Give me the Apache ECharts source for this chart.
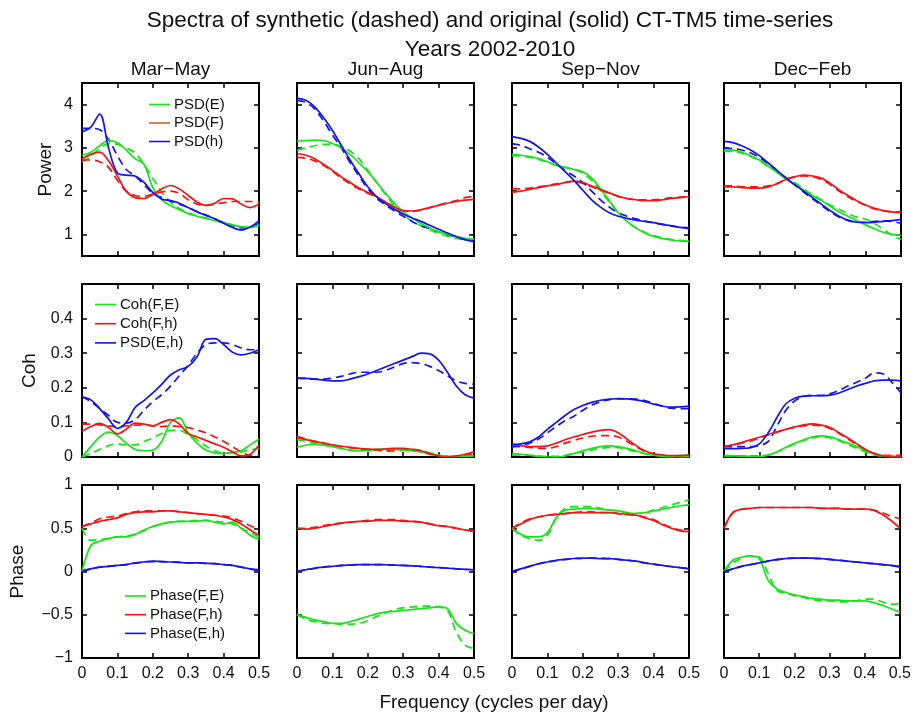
<!DOCTYPE html>
<html><head><meta charset="utf-8">
<script src="https://cdn.jsdelivr.net/npm/echarts@6/dist/echarts.min.js"></script>
<style>html,body{margin:0;padding:0;background:#fff}#chart{width:914px;height:713px}</style>
</head><body><div id="chart"></div>
<script>
// ---------- data ----------
const freq = [0,0.025,0.05,0.075,0.1,0.125,0.15,0.175,0.2,0.225,0.25,0.275,0.3,0.325,0.35,0.375,0.4,0.425,0.45,0.475,0.5];
const seasons = ['Mar\u2212May','Jun\u2212Aug','Sep\u2212Nov','Dec\u2212Feb'];
const freqTicks = [0,0.1,0.2,0.3,0.4,0.5];
const powerTicks = [1,2,3,4];
const cohTicks = [0,0.1,0.2,0.3,0.4];
const phaseTicks = [-1,-0.5,0,0.5,1];

// Row 1 : power spectra, one sub-array per season (MAM, JJA, SON, DJF)
const psdE_orig = [
 [2.83,2.9,3.05,3.17,3.12,2.95,2.75,2.62,2.08,1.8,1.67,1.57,1.48,1.42,1.37,1.32,1.27,1.22,1.17,1.16,1.22],
 [3.15,3.17,3.18,3.17,3.1,3.0,2.85,2.65,2.45,2.2,1.95,1.72,1.52,1.38,1.25,1.15,1.06,1.0,0.95,0.91,0.89],
 [2.85,2.83,2.8,2.75,2.68,2.6,2.55,2.5,2.45,2.3,2.05,1.78,1.5,1.3,1.15,1.03,0.95,0.9,0.87,0.85,0.84],
 [2.95,2.95,2.9,2.82,2.72,2.58,2.43,2.28,2.15,2.02,1.9,1.78,1.65,1.52,1.42,1.32,1.22,1.13,1.05,1.0,0.98]];
const psdE_synth = [
 [2.68,2.8,2.98,3.1,3.08,3.0,2.88,2.62,2.3,1.98,1.75,1.6,1.5,1.43,1.38,1.32,1.27,1.22,1.18,1.17,1.2],
 [2.94,3.0,3.05,3.08,3.08,3.03,2.93,2.75,2.48,2.2,1.92,1.66,1.46,1.3,1.2,1.1,1.02,0.96,0.91,0.88,0.88],
 [2.82,2.81,2.78,2.73,2.67,2.6,2.55,2.5,2.42,2.25,2.0,1.75,1.5,1.3,1.15,1.05,0.97,0.92,0.88,0.86,0.85],
 [2.92,2.92,2.88,2.8,2.7,2.57,2.45,2.32,2.2,2.05,1.92,1.8,1.68,1.58,1.48,1.4,1.35,1.25,1.12,0.98,0.88]];
const psdF_orig = [
 [2.75,2.85,2.9,2.7,2.35,2.0,1.85,1.83,1.92,2.05,2.13,2.05,1.9,1.75,1.67,1.72,1.83,1.82,1.7,1.62,1.7],
 [2.87,2.83,2.75,2.62,2.48,2.33,2.2,2.07,1.97,1.87,1.75,1.63,1.55,1.54,1.57,1.62,1.67,1.72,1.76,1.79,1.81],
 [1.97,2.0,2.04,2.08,2.12,2.15,2.2,2.23,2.2,2.12,2.04,1.96,1.88,1.83,1.8,1.78,1.78,1.8,1.83,1.85,1.87],
 [2.1,2.1,2.08,2.07,2.07,2.1,2.17,2.27,2.33,2.37,2.35,2.3,2.18,2.03,1.9,1.78,1.68,1.6,1.55,1.52,1.5]];
const psdF_synth = [
 [2.72,2.72,2.68,2.55,2.25,2.0,1.9,1.88,1.93,1.98,2.0,1.95,1.8,1.7,1.67,1.7,1.73,1.76,1.76,1.76,1.75],
 [2.78,2.76,2.7,2.6,2.46,2.3,2.17,2.05,1.95,1.86,1.75,1.63,1.55,1.53,1.56,1.62,1.68,1.73,1.78,1.85,1.88],
 [2.06,2.05,2.07,2.1,2.13,2.17,2.2,2.22,2.18,2.1,2.02,1.95,1.88,1.83,1.8,1.8,1.8,1.82,1.85,1.86,1.88],
 [2.13,2.12,2.1,2.1,2.1,2.12,2.18,2.27,2.33,2.35,2.33,2.27,2.15,2.0,1.87,1.76,1.67,1.59,1.54,1.52,1.52]];
const psdH_orig = [
 [3.37,3.48,3.78,3.0,2.42,2.37,2.35,2.2,1.97,1.82,1.78,1.72,1.62,1.52,1.44,1.36,1.26,1.16,1.1,1.17,1.32],
 [4.15,4.1,3.95,3.7,3.4,3.06,2.72,2.4,2.1,1.87,1.71,1.58,1.47,1.38,1.3,1.21,1.12,1.03,0.95,0.88,0.83],
 [3.26,3.22,3.15,3.02,2.85,2.65,2.45,2.25,2.02,1.8,1.63,1.5,1.42,1.37,1.33,1.3,1.27,1.23,1.2,1.16,1.13],
 [3.15,3.12,3.05,2.95,2.82,2.65,2.48,2.3,2.15,2.0,1.85,1.7,1.55,1.42,1.33,1.28,1.27,1.28,1.3,1.32,1.34]];
const psdH_synth = [
 [3.45,3.45,3.42,3.2,2.82,2.5,2.35,2.15,1.95,1.85,1.77,1.7,1.62,1.53,1.45,1.36,1.27,1.2,1.15,1.17,1.25],
 [4.1,4.05,3.9,3.62,3.3,3.0,2.66,2.35,2.06,1.83,1.68,1.54,1.42,1.3,1.2,1.13,1.06,0.99,0.93,0.88,0.85],
 [3.1,3.06,2.98,2.9,2.78,2.63,2.48,2.35,2.2,2.0,1.8,1.63,1.5,1.42,1.36,1.31,1.27,1.23,1.19,1.17,1.15],
 [3.0,2.98,2.95,2.88,2.78,2.63,2.47,2.3,2.14,1.98,1.82,1.67,1.52,1.4,1.32,1.28,1.28,1.3,1.31,1.3,1.25]];

// Row 2 : coherence
const cohFE_orig = [
 [0.0,0.03,0.058,0.072,0.062,0.04,0.022,0.018,0.02,0.045,0.1,0.113,0.07,0.04,0.02,0.012,0.01,0.013,0.018,0.035,0.052],
 [0.029,0.034,0.037,0.034,0.03,0.025,0.02,0.018,0.02,0.022,0.023,0.022,0.02,0.018,0.015,0.01,0.005,0.003,0.002,0.002,0.003],
 [0.01,0.008,0.005,0.002,0.0,0.0,0.003,0.01,0.018,0.025,0.03,0.032,0.03,0.025,0.018,0.01,0.005,0.002,0.001,0.001,0.001],
 [0.003,0.003,0.003,0.002,0.002,0.005,0.015,0.028,0.04,0.05,0.058,0.061,0.058,0.05,0.04,0.03,0.018,0.008,0.003,0.001,0.001]];
const cohFE_synth = [
 [0.0,0.01,0.022,0.033,0.038,0.035,0.035,0.045,0.055,0.068,0.077,0.077,0.065,0.05,0.032,0.018,0.012,0.012,0.015,0.02,0.025],
 [0.05,0.045,0.04,0.035,0.03,0.025,0.02,0.018,0.018,0.02,0.016,0.016,0.02,0.022,0.02,0.012,0.005,0.002,0.002,0.003,0.005],
 [0.005,0.006,0.005,0.003,0.002,0.002,0.005,0.01,0.015,0.02,0.025,0.028,0.027,0.022,0.015,0.01,0.005,0.002,0.001,0.001,0.002],
 [0.004,0.004,0.003,0.003,0.003,0.006,0.015,0.027,0.038,0.048,0.055,0.058,0.055,0.047,0.036,0.025,0.014,0.006,0.003,0.003,0.005]];
const cohFh_orig = [
 [0.074,0.088,0.097,0.085,0.067,0.08,0.098,0.095,0.09,0.1,0.108,0.095,0.068,0.058,0.048,0.038,0.028,0.015,0.003,0.008,0.035],
 [0.056,0.05,0.045,0.04,0.035,0.031,0.028,0.025,0.023,0.022,0.023,0.025,0.025,0.022,0.018,0.01,0.003,0.0,0.003,0.008,0.015],
 [0.038,0.033,0.03,0.03,0.032,0.04,0.05,0.058,0.065,0.072,0.077,0.079,0.07,0.052,0.033,0.018,0.01,0.006,0.004,0.004,0.006],
 [0.03,0.035,0.042,0.05,0.057,0.065,0.073,0.08,0.087,0.093,0.096,0.092,0.085,0.07,0.055,0.038,0.022,0.01,0.003,0.0,0.002]];
const cohFh_synth = [
 [0.095,0.095,0.093,0.09,0.088,0.09,0.092,0.093,0.09,0.088,0.09,0.088,0.085,0.078,0.07,0.058,0.045,0.03,0.015,0.005,0.005],
 [0.06,0.052,0.045,0.04,0.035,0.03,0.027,0.024,0.022,0.02,0.018,0.02,0.022,0.02,0.015,0.008,0.003,0.0,0.002,0.005,0.01],
 [0.03,0.03,0.028,0.025,0.025,0.03,0.04,0.048,0.055,0.06,0.062,0.062,0.058,0.045,0.03,0.016,0.008,0.004,0.003,0.004,0.005],
 [0.03,0.034,0.04,0.046,0.055,0.064,0.072,0.08,0.086,0.09,0.092,0.09,0.082,0.068,0.052,0.035,0.02,0.01,0.005,0.005,0.005]];
const cohEh_orig = [
 [0.173,0.165,0.14,0.11,0.083,0.1,0.143,0.163,0.185,0.21,0.237,0.252,0.262,0.29,0.34,0.342,0.325,0.303,0.295,0.3,0.31],
 [0.228,0.227,0.225,0.222,0.22,0.22,0.225,0.232,0.24,0.25,0.26,0.27,0.28,0.29,0.3,0.298,0.28,0.245,0.205,0.18,0.17],
 [0.036,0.038,0.044,0.058,0.08,0.1,0.12,0.137,0.149,0.158,0.164,0.167,0.169,0.168,0.165,0.16,0.153,0.147,0.144,0.145,0.147],
 [0.024,0.024,0.025,0.027,0.038,0.07,0.115,0.154,0.17,0.176,0.177,0.177,0.179,0.185,0.195,0.205,0.213,0.22,0.222,0.222,0.22]];
const cohEh_synth = [
 [0.175,0.16,0.14,0.12,0.1,0.098,0.108,0.135,0.16,0.18,0.205,0.235,0.265,0.3,0.325,0.33,0.33,0.325,0.315,0.31,0.31],
 [0.228,0.227,0.225,0.225,0.228,0.233,0.24,0.245,0.245,0.245,0.25,0.26,0.27,0.273,0.27,0.262,0.25,0.235,0.22,0.213,0.21],
 [0.03,0.033,0.04,0.052,0.07,0.088,0.105,0.118,0.135,0.15,0.16,0.166,0.168,0.168,0.167,0.163,0.155,0.147,0.141,0.14,0.14],
 [0.03,0.03,0.03,0.03,0.033,0.045,0.09,0.135,0.162,0.175,0.178,0.178,0.183,0.193,0.205,0.216,0.228,0.243,0.24,0.215,0.185]];

// Row 3 : phase
const phFE_orig = [
 [0.0,0.3,0.35,0.38,0.4,0.4,0.43,0.48,0.52,0.55,0.57,0.58,0.58,0.58,0.59,0.57,0.55,0.57,0.5,0.42,0.37],
 [-0.5,-0.53,-0.56,-0.58,-0.6,-0.6,-0.58,-0.55,-0.52,-0.49,-0.47,-0.46,-0.45,-0.44,-0.43,-0.42,-0.41,-0.43,-0.6,-0.68,-0.72],
 [0.5,0.43,0.4,0.4,0.45,0.62,0.71,0.72,0.73,0.73,0.72,0.71,0.7,0.68,0.67,0.68,0.7,0.72,0.74,0.76,0.77],
 [0.0,0.13,0.165,0.18,0.15,-0.1,-0.2,-0.24,-0.27,-0.29,-0.31,-0.32,-0.33,-0.33,-0.34,-0.34,-0.34,-0.36,-0.39,-0.43,-0.47]];
const phFE_synth = [
 [0.5,0.36,0.37,0.38,0.4,0.41,0.43,0.47,0.52,0.55,0.57,0.58,0.58,0.59,0.59,0.58,0.57,0.55,0.5,0.45,0.4],
 [-0.5,-0.55,-0.58,-0.6,-0.6,-0.61,-0.61,-0.6,-0.57,-0.52,-0.48,-0.44,-0.42,-0.41,-0.4,-0.4,-0.41,-0.45,-0.7,-0.85,-0.89],
 [0.5,0.42,0.38,0.36,0.42,0.62,0.73,0.75,0.75,0.75,0.73,0.71,0.7,0.68,0.67,0.68,0.71,0.74,0.77,0.8,0.83],
 [0.0,0.1,0.15,0.18,0.17,-0.02,-0.22,-0.25,-0.28,-0.3,-0.32,-0.34,-0.34,-0.35,-0.35,-0.34,-0.32,-0.32,-0.35,-0.38,-0.37]];
const phFh_orig = [
 [0.52,0.55,0.58,0.6,0.62,0.66,0.68,0.69,0.69,0.7,0.7,0.69,0.68,0.67,0.66,0.65,0.63,0.6,0.55,0.48,0.42],
 [0.5,0.49,0.5,0.52,0.54,0.56,0.57,0.58,0.58,0.59,0.59,0.59,0.58,0.58,0.57,0.55,0.53,0.52,0.5,0.48,0.46],
 [0.5,0.55,0.6,0.63,0.65,0.66,0.67,0.68,0.68,0.68,0.68,0.68,0.67,0.66,0.65,0.62,0.59,0.54,0.5,0.47,0.46],
 [0.5,0.68,0.72,0.73,0.74,0.74,0.74,0.74,0.74,0.74,0.74,0.73,0.73,0.73,0.72,0.72,0.72,0.71,0.66,0.59,0.5]];
const phFh_synth = [
 [0.52,0.56,0.61,0.63,0.64,0.67,0.69,0.7,0.7,0.7,0.7,0.69,0.68,0.67,0.66,0.65,0.64,0.62,0.58,0.53,0.49],
 [0.5,0.5,0.51,0.53,0.55,0.56,0.57,0.58,0.59,0.6,0.6,0.6,0.59,0.58,0.57,0.55,0.53,0.52,0.5,0.48,0.47],
 [0.5,0.56,0.61,0.63,0.65,0.66,0.67,0.68,0.69,0.69,0.68,0.68,0.67,0.66,0.65,0.63,0.6,0.55,0.51,0.48,0.47],
 [0.5,0.68,0.72,0.73,0.74,0.74,0.74,0.74,0.74,0.74,0.74,0.73,0.73,0.73,0.72,0.72,0.72,0.71,0.68,0.64,0.61]];
const phEh_orig = [
 [0.0,0.03,0.05,0.06,0.07,0.08,0.1,0.11,0.12,0.115,0.11,0.105,0.1,0.1,0.095,0.09,0.08,0.07,0.05,0.03,0.01],
 [0.0,0.02,0.04,0.05,0.06,0.07,0.075,0.08,0.08,0.08,0.078,0.075,0.07,0.065,0.06,0.05,0.045,0.04,0.03,0.025,0.02],
 [0.0,0.03,0.06,0.09,0.11,0.13,0.14,0.15,0.153,0.155,0.15,0.15,0.14,0.13,0.12,0.1,0.085,0.07,0.055,0.045,0.03],
 [0.0,0.03,0.06,0.08,0.1,0.12,0.14,0.15,0.155,0.155,0.155,0.15,0.14,0.13,0.12,0.11,0.1,0.09,0.08,0.07,0.05]];
const phEh_synth = [
 [0.01,0.03,0.05,0.06,0.07,0.08,0.095,0.11,0.115,0.115,0.11,0.105,0.1,0.1,0.095,0.09,0.08,0.07,0.05,0.03,0.02],
 [0.0,0.02,0.035,0.05,0.06,0.068,0.075,0.08,0.08,0.08,0.078,0.075,0.07,0.065,0.06,0.052,0.045,0.04,0.032,0.025,0.02],
 [0.0,0.03,0.06,0.09,0.11,0.125,0.14,0.15,0.153,0.155,0.152,0.148,0.14,0.13,0.118,0.1,0.085,0.07,0.058,0.045,0.035],
 [0.0,0.03,0.06,0.08,0.1,0.12,0.135,0.15,0.155,0.155,0.152,0.148,0.14,0.13,0.12,0.11,0.1,0.09,0.08,0.07,0.06]];

// ---------- styling / layout ----------
const GREEN = '#14e614', RED = '#f51414', BLUE = '#1414eb', LEG_F = '#c6612c';
const FONT = '"Liberation Sans", Arial, Helvetica, sans-serif';
const colLeft = [82, 297, 512, 724];
const rowTop = [83, 284, 485];
const PW = 177, PH = 173;

const rows = [
  {min:0.5, max:4.5, ticks:powerTicks, name:'Power', nameX:46,
   vars:[{label:'PSD(E)', color:GREEN, leg:GREEN, orig:psdE_orig, synth:psdE_synth},
         {label:'PSD(F)', color:RED, leg:LEG_F, orig:psdF_orig, synth:psdF_synth},
         {label:'PSD(h)', color:BLUE, leg:BLUE, orig:psdH_orig, synth:psdH_synth}],
   legend:{x:149, y:104.5, dy:18.5}},
  {min:0, max:0.5, ticks:cohTicks, name:'Coh', nameX:30,
   vars:[{label:'Coh(F,E)', color:GREEN, leg:GREEN, orig:cohFE_orig, synth:cohFE_synth},
         {label:'Coh(F,h)', color:RED, leg:RED, orig:cohFh_orig, synth:cohFh_synth},
         {label:'PSD(E,h)', color:BLUE, leg:BLUE, orig:cohEh_orig, synth:cohEh_synth}],
   legend:{x:95, y:304.5, dy:19.2}},
  {min:-1, max:1, ticks:phaseTicks, name:'Phase', nameX:18,
   vars:[{label:'Phase(F,E)', color:GREEN, leg:GREEN, orig:phFE_orig, synth:phFE_synth},
         {label:'Phase(F,h)', color:RED, leg:RED, orig:phFh_orig, synth:phFh_synth},
         {label:'Phase(E,h)', color:BLUE, leg:BLUE, orig:phEh_orig, synth:phEh_synth}],
   legend:{x:125, y:596, dy:18.7}}
];

const fmt = v => String(+v.toFixed(2)).replace('-', '\u2212');
const labelStyle = {color:'#111', fontSize:16, fontFamily:FONT, formatter:fmt};
const grid = [], xAxis = [], yAxis = [], series = [], graphic = [];

rows.forEach((row, r) => {
  for (let c = 0; c < 4; c++) {
    const g = r * 4 + c;
    grid.push({left:colLeft[c], top:rowTop[r], width:PW, height:PH, show:false, containLabel:false});
    const xBase = {gridIndex:g, type:'value', min:0, max:0.5, interval:0.1,
      axisLine:{show:true, onZero:false, lineStyle:{color:'#000', width:2}},
      axisTick:{show:true, inside:true, length:5, lineStyle:{color:'#000', width:1.5}},
      splitLine:{show:false}};
    xAxis.push(Object.assign({}, xBase, {position:'bottom',
      axisLabel:Object.assign({show:r === 2, margin:8, showMinLabel:true, showMaxLabel:true, customValues:freqTicks}, labelStyle)}));
    xAxis.push(Object.assign({}, xBase, {position:'top', axisLabel:{show:false}}));
    const yBase = {gridIndex:g, type:'value', min:row.min, max:row.max,
      axisLine:{show:true, onZero:false, lineStyle:{color:'#000', width:2}},
      axisTick:{show:true, inside:true, length:5, customValues:row.ticks, lineStyle:{color:'#000', width:1.5}},
      splitLine:{show:false}};
    yAxis.push(Object.assign({}, yBase, {position:'left',
      axisLabel:Object.assign({show:c === 0, margin:9, customValues:row.ticks}, labelStyle)}));
    yAxis.push(Object.assign({}, yBase, {position:'right', axisLabel:{show:false}}));

    row.vars.forEach(v => {
      series.push({type:'line', xAxisIndex:2*g, yAxisIndex:2*g, silent:true, symbol:'none', smooth:0.35,
        data:freq.map((f, i) => [f, v.synth[c][i]]),
        lineStyle:{color:v.color, width:1.7, type:[8,5]}, z:2});
    });
    row.vars.forEach(v => {
      series.push({type:'line', xAxisIndex:2*g, yAxisIndex:2*g, silent:true, symbol:'none', smooth:0.35,
        data:freq.map((f, i) => [f, v.orig[c][i]]),
        lineStyle:{color:v.color, width:1.7}, z:3});
    });
  }
  // y-axis name
  graphic.push({type:'text', x:row.nameX, y:rowTop[r] + PH / 2, rotation:Math.PI / 2,
    style:{text:row.name, fontSize:19, fontFamily:FONT, fill:'#111', align:'center', verticalAlign:'middle'}});
  // legend
  row.vars.forEach((v, k) => {
    const ly = row.legend.y + k * row.legend.dy;
    graphic.push({type:'line', shape:{x1:row.legend.x, y1:ly, x2:row.legend.x + 21, y2:ly},
      style:{stroke:v.leg, lineWidth:1.6}, z:10});
    graphic.push({type:'text', x:row.legend.x + 25, y:ly,
      style:{text:v.label, fontSize:15, fontFamily:FONT, fill:'#111', align:'left', verticalAlign:'middle'}, z:10});
  });
});

// column titles
seasons.forEach((s, c) => {
  graphic.push({type:'text', x:colLeft[c] + PW / 2, y:70,
    style:{text:s, fontSize:19, fontFamily:FONT, fill:'#111', align:'center', verticalAlign:'middle'}});
});
// main title and x-axis name
graphic.push({type:'text', x:490, y:21,
  style:{text:'Spectra of synthetic (dashed) and original (solid) CT-TM5 time-series', fontSize:22.5, fontFamily:FONT, fill:'#111', align:'center', verticalAlign:'middle'}});
graphic.push({type:'text', x:490, y:50,
  style:{text:'Years 2002-2010', fontSize:22.5, fontFamily:FONT, fill:'#111', align:'center', verticalAlign:'middle'}});
graphic.push({type:'text', x:494, y:703,
  style:{text:'Frequency (cycles per day)', fontSize:19, fontFamily:FONT, fill:'#111', align:'center', verticalAlign:'middle'}});

const chart = echarts.init(document.getElementById('chart'), null, {renderer:'canvas'});
chart.setOption({backgroundColor:'#fff', animation:false, grid, xAxis, yAxis, series, graphic});
</script>
</body></html>
